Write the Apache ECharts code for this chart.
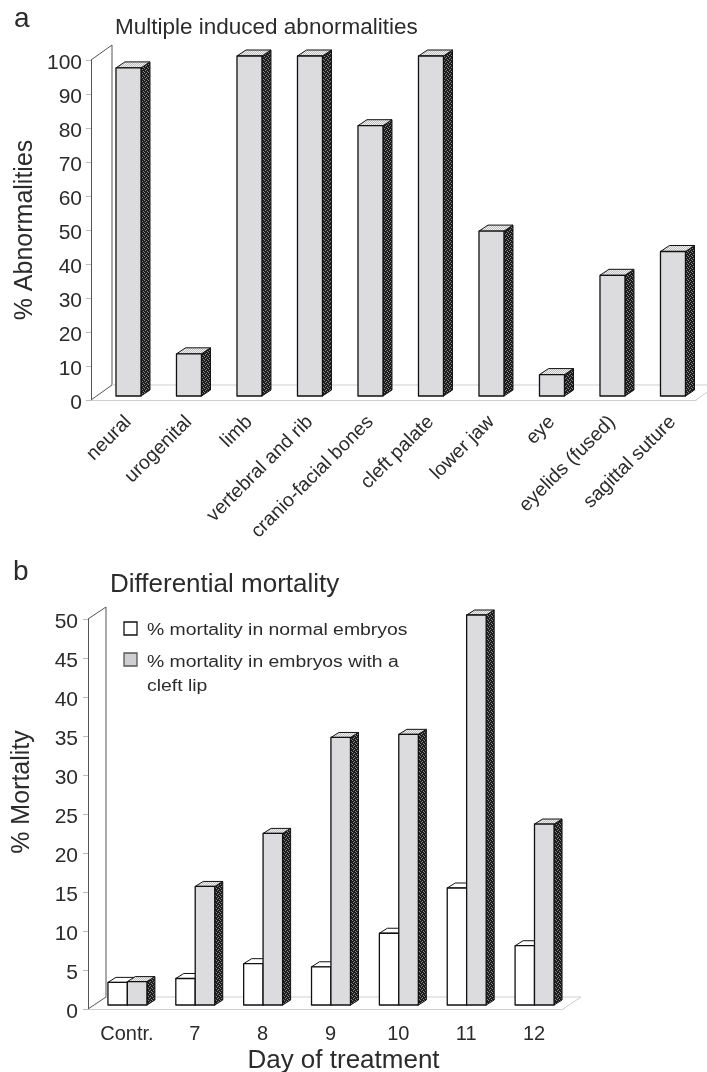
<!DOCTYPE html>
<html>
<head>
<meta charset="utf-8">
<style>html,body{margin:0;padding:0;background:#fff}#c{width:707px;height:1072px;filter:blur(0.45px)}</style>
<script src="https://cdn.jsdelivr.net/npm/echarts@6/dist/echarts.min.js"></script>
</head>
<body>
<div id="c"></div>
<script>
const abnCategories = ['neural','urogenital','limb','vertebral and rib','cranio-facial bones','cleft palate','lower jaw','eye','eyelids (fused)','sagittal suture'];
const abnValues = [96.5,12.4,100,100,79.5,100,48.5,6.3,35.5,42.5];
const abnTicks = [0,10,20,30,40,50,60,70,80,90,100];
const dayCategories = ['Contr.','7','8','9','10','11','12'];
const normalValues = [2.9,3.4,5.3,4.9,9.2,15,7.6];
const cleftValues = [3,15.2,22,34.3,34.7,50,23.2];
const morTicks = [0,5,10,15,20,25,30,35,40,45,50];

const FONT = '"Liberation Sans", Arial, sans-serif';
const INK = '#2b2b2b';

function stipple(fg, bg, cells) {
  const s = 4, u = 1, cv = document.createElement('canvas');
  cv.width = s; cv.height = s;
  const g = cv.getContext('2d');
  g.fillStyle = bg; g.fillRect(0, 0, s, s);
  g.fillStyle = fg;
  cells.forEach(c => g.fillRect(c[0], c[1], u, u));
  return { image: cv, repeat: 'repeat' };
}
const sidePat = stipple('#8a8a8a', '#1c1c1c', [[0,0],[2,1],[1,2],[3,3]]);
const topGrey = stipple('#f2f2f2', '#bdbdbd', [[0,0],[2,0],[1,1],[3,1],[0,2],[2,2],[1,3],[3,3]]);

function poly(points, fill, lw) {
  return { type: 'polygon', shape: { points }, style: { fill, stroke: '#111', lineWidth: lw, lineJoin: 'round' } };
}
function barRenderer(vals, o) {
  return function (params, api) {
    const i = api.value(0), v = api.value(1);
    const band = api.size([1, 0])[0];
    const c = api.coord([i, v]), b = api.coord([i, 0]);
    const xl = c[0] + band * o.from, xr = c[0] + band * o.to;
    const yt = c[1] - o.lift, yb = b[1] - o.lift;
    const dx = o.dx, dy = o.dy;
    return { type: 'group', children: [
      poly([[xr,yt],[xr+dx,yt-dy],[xr+dx,yb-dy],[xr,yb]], o.side, 1),
      poly([[xl,yt],[xl+dx,yt-dy],[xr+dx,yt-dy],[xr,yt]], o.top, 1),
      poly([[xl,yt],[xr,yt],[xr,yb],[xl,yb]], o.face, 1.3)
    ]};
  };
}
function frameRenderer(dx, dy) {
  return function (params) {
    const r = params.coordSys, L = r.x, T = r.y, B = r.y + r.height, R = r.x + r.width;
    const dark = { stroke: '#555', lineWidth: 1, fill: 'none' };
    const light = { stroke: '#cfcfcf', lineWidth: 1, fill: 'none' };
    return { type: 'group', children: [
      { type: 'polyline', shape: { points: [[L,T],[L+dx,T-dy],[L+dx,B-dy],[L,B]] }, style: dark },
      { type: 'polyline', shape: { points: [[L+dx,B-dy],[R+dx,B-dy],[R,B]] }, style: light }
    ]};
  };
}
function toData(vals) { return vals.map((v, i) => [i, v]); }
function yAxis(idx, ticks, name, gap, margin, namePad) {
  return { gridIndex: idx, type: 'value', min: ticks[0], max: ticks[ticks.length - 1], interval: ticks[1] - ticks[0],
    name, nameLocation: 'middle', nameGap: gap, nameMoveOverlap: false,
    nameTextStyle: { fontFamily: FONT, fontSize: 25, color: INK, padding: namePad },
    axisLine: { show: true, lineStyle: { color: '#555' } },
    axisTick: { show: true, length: 5, lineStyle: { color: '#bbb' } },
    axisLabel: { fontFamily: FONT, fontSize: 21, color: INK, margin, verticalAlign: 'top', lineHeight: 6 },
    splitLine: { show: false } };
}

const option = {
  animation: false,
  backgroundColor: '#fff',
  title: [
    { text: 'a', left: 9, top: 0, textStyle: { fontFamily: FONT, fontSize: 28, fontWeight: 'normal', color: INK } },
    { text: 'Multiple induced abnormalities', left: 110, top: 11, textStyle: { fontFamily: FONT, fontSize: 22.5, fontWeight: 'normal', color: INK } },
    { text: 'b', left: 8, top: 553, textStyle: { fontFamily: FONT, fontSize: 28, fontWeight: 'normal', color: INK } },
    { text: 'Differential mortality', left: 105, top: 567, textStyle: { fontFamily: FONT, fontSize: 26, fontWeight: 'normal', color: INK } }
  ],
  grid: [
    { left: 91, top: 60, width: 605, height: 340, outerBoundsMode: 'none' },
    { left: 88, top: 619, width: 475, height: 390, outerBoundsMode: 'none' }
  ],
  xAxis: [
    { gridIndex: 0, type: 'category', data: abnCategories,
      axisLine: { lineStyle: { color: '#cfcfcf' } },
      axisTick: { length: 4, lineStyle: { color: '#cfcfcf' } },
      axisLabel: { interval: 0, rotate: 45, fontFamily: FONT, fontSize: 19.5, color: INK, margin: 12, align: 'right', verticalAlign: 'top' } },
    { gridIndex: 1, type: 'category', data: dayCategories, name: 'Day of treatment', nameLocation: 'middle', nameGap: 39,
      nameTextStyle: { fontFamily: FONT, fontSize: 26, color: INK, padding: [0, 0, 0, 36] },
      axisLine: { lineStyle: { color: '#cfcfcf' } },
      axisTick: { length: 4, lineStyle: { color: '#cfcfcf' } },
      axisLabel: { interval: 0, fontFamily: FONT, fontSize: 20, color: INK, margin: 15, padding: [0, 0, 0, 10] } }
  ],
  yAxis: [
    yAxis(0, abnTicks, '% Abnormalities', 53, 9, [0, 0, 0, 0]),
    yAxis(1, morTicks, '% Mortality', 53, 10, [0, 0, 0, 44])
  ],
  series: [
    { name: 'frame a', type: 'custom', xAxisIndex: 0, yAxisIndex: 0, data: [[0, 0]], renderItem: frameRenderer(21, 15), clip: false, silent: true },
    { name: 'Abnormalities', type: 'custom', xAxisIndex: 0, yAxisIndex: 0, data: toData(abnValues), clip: false,
      renderItem: barRenderer(abnValues, { from: -0.087, to: 0.326, lift: 4, dx: 9, dy: 6, face: '#dcdcde', top: topGrey, side: sidePat }) },
    { name: 'frame b', type: 'custom', xAxisIndex: 1, yAxisIndex: 1, data: [[0, 0]], renderItem: frameRenderer(18, 12), clip: false, silent: true },
    { name: '% mortality in normal embryos', type: 'custom', xAxisIndex: 1, yAxisIndex: 1, data: toData(normalValues), clip: false,
      renderItem: barRenderer(normalValues, { from: -0.206, to: 0.08, lift: 4, dx: 8, dy: 5, face: '#fff', top: '#fff', side: '#fff' }) },
    { name: '% mortality in embryos with a cleft lip', type: 'custom', xAxisIndex: 1, yAxisIndex: 1, data: toData(cleftValues), clip: false,
      renderItem: barRenderer(cleftValues, { from: 0.08, to: 0.368, lift: 4, dx: 8, dy: 5, face: '#dcdcde', top: topGrey, side: sidePat }) }
  ],
  graphic: [
    { type: 'rect', x: 124, y: 622, shape: { width: 13, height: 13 }, style: { fill: '#fff', stroke: '#111', lineWidth: 1.3 } },
    { type: 'text', x: 147, y: 622.5, scaleX: 1.21, style: { text: '% mortality in normal embryos', font: '16px ' + FONT, fill: INK } },
    { type: 'rect', x: 124, y: 653, shape: { width: 13, height: 13 }, style: { fill: '#cfcfd1', stroke: '#555', lineWidth: 1.3 } },
    { type: 'text', x: 147, y: 651, scaleX: 1.21, style: { text: '% mortality in embryos with a\ncleft lip', font: '16px ' + FONT, fill: INK, lineHeight: 24 } }
  ]
};
echarts.init(document.getElementById('c'), null, { renderer: 'canvas' }).setOption(option);
</script>
</body>
</html>
